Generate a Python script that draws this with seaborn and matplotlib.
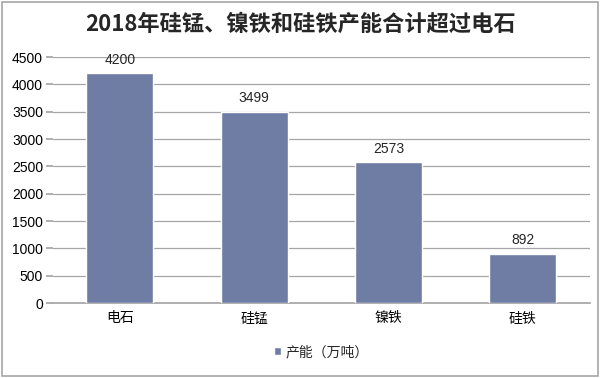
import matplotlib
matplotlib.use("Agg")
import matplotlib.pyplot as plt
import seaborn as sns
import pandas as pd

categories = ["电石", "硅锰", "镍铁", "硅铁"]
capacity = [4200, 3499, 2573, 892]
series_name = "产能（万吨）"
title = "2018年硅锰、镍铁和硅铁产能合计超过电石"

sns.set_theme(style="white")
plt.rcParams["font.family"] = ["Noto Sans CJK SC", "DejaVu Sans"]

df = pd.DataFrame({"cat": categories, "val": capacity})

fig = plt.figure(figsize=(6, 3.78), dpi=100)
ax = fig.add_axes([0.088, 0.198, 0.895, 0.651])
sns.barplot(data=df, x="cat", y="val", color="#6F7CA3", width=0.5,
            saturation=1, ax=ax, label=series_name, zorder=3)

ax.set_ylim(0, 4500)
ax.set_yticks(range(0, 4501, 500))
ax.yaxis.grid(True, color="#A6A6A6", linewidth=0.9, zorder=0)
ax.set_xlabel("")
ax.set_ylabel("")
for s in ["top", "right", "left"]:
    ax.spines[s].set_visible(False)
ax.spines["bottom"].set_color("#A6A6A6")
ax.tick_params(axis="y", labelsize=10, colors="#A6A6A6", labelcolor="black",
               length=5, left=True, pad=2)
ax.tick_params(axis="x", labelsize=10, labelcolor="black", length=0, pad=6)
for lab in ax.get_yticklabels():
    lab.set_family(["Liberation Sans", "DejaVu Sans"])

for p, v in zip(ax.patches, capacity):
    ax.annotate(str(v), (p.get_x() + p.get_width() / 2, v), xytext=(0, 5),
                textcoords="offset points", ha="center", va="bottom",
                fontsize=10, family=["Liberation Sans", "DejaVu Sans"])

fig.text(0.5, 0.935, title, ha="center", va="center", fontsize=16,
         fontweight="bold")

ax.legend(loc="upper center", bbox_to_anchor=(0.5, -0.12), frameon=False,
          fontsize=10, handlelength=0.5, handleheight=0.5, handletextpad=0.3)

fig.patches.append(plt.Rectangle((0.003, 0.004), 0.994, 0.992,
                                 transform=fig.transFigure, fill=False,
                                 edgecolor="#A6A6A6", linewidth=1.2))

fig.savefig("out.png", dpi=100)
